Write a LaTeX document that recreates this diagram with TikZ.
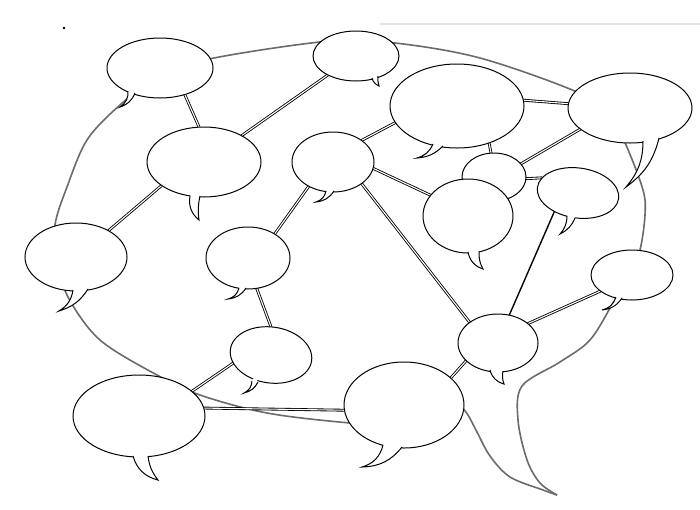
\documentclass[tikz,border=0pt]{standalone}
\usetikzlibrary{shapes.geometric}
\pgfdeclarelayer{background}
\pgfsetlayers{background,main}
\tikzset{
  bub/.style={ellipse, draw=black, fill=white, line width=1pt, inner sep=0pt, outer sep=0pt},
  tailline/.style={draw=black, line width=1pt},
  link/.style={draw=black, line width=0.85pt, double=white, double distance=1.1pt},
  solidlink/.style={draw=black, line width=1.4pt},
  bigoutline/.style={draw=black!58, line width=1.6pt, line join=round},
}
% tail: #1 S, #2 T, #3 E, #4 inner point, #5 first bend, #6 second bend
\newcommand\bubtail[6]{%
  \fill[white] #1 to[#5] #2 to[#6] #3 -- #4 -- cycle;
  \draw[tailline] #1 to[#5] #2 to[#6] #3;
}
\begin{document}
\begin{tikzpicture}[x=1pt,y=-1pt]
\useasboundingbox (0,0) rectangle (700,509);

% bubbles
\node[bub, minimum width=106pt, minimum height=60pt] (b1) at (160,68) {};
\node[bub, minimum width=86pt, minimum height=50pt] (b2) at (356,56) {};
\node[bub, minimum width=134pt, minimum height=84pt] (b3) at (457,106) {};
\node[bub, minimum width=124pt, minimum height=70pt] (b4) at (630,108) {};
\node[bub, minimum width=114pt, minimum height=70pt] (b5) at (204,162) {};
\node[bub, minimum width=82pt, minimum height=60pt] (b6) at (333,162) {};
\node[bub, minimum width=64pt, minimum height=48pt] (b7) at (494,177) {};
\node[bub, minimum width=90pt, minimum height=74pt] (b8) at (468,216) {};
\node[bub, minimum width=82pt, minimum height=50pt, rotate=-8] (b9) at (578,193) {};
\node[bub, minimum width=102pt, minimum height=68pt] (b10) at (76,257) {};
\node[bub, minimum width=84pt, minimum height=62pt] (b11) at (248,258) {};
\node[bub, minimum width=82pt, minimum height=50pt] (b12) at (632,275) {};
\node[bub, minimum width=82pt, minimum height=56pt, rotate=-8] (b13) at (271,355) {};
\node[bub, minimum width=80pt, minimum height=58pt] (b14) at (498,343) {};
\node[bub, minimum width=132pt, minimum height=82pt] (b15) at (139,416) {};
\node[bub, minimum width=120pt, minimum height=86pt] (b16) at (404,405) {};

% tails
\bubtail{(128,91)}{(120,107)}{(135,93)}{(132,86)}{bend left=30}{bend right=25}
\bubtail{(372,78)}{(379,86)}{(378,76)}{(375,72)}{bend right=25}{bend left=10}
\bubtail{(433,144)}{(417,158)}{(443,146)}{(438,138)}{bend left=25}{bend right=20}
\bubtail{(643,141)}{(626,187)}{(659,138)}{(650,132)}{bend left=20}{bend right=20}
\bubtail{(190,196)}{(199,220)}{(200,196)}{(195,190)}{bend right=30}{bend left=10}
\bubtail{(326,191)}{(316,202)}{(334,191)}{(330,186)}{bend left=30}{bend right=25}
\bubtail{(468,252)}{(483,269)}{(479,251)}{(473,245)}{bend right=30}{bend left=15}
\bubtail{(567,216)}{(560,234)}{(575,218)}{(571,210)}{bend left=20}{bend right=20}
\bubtail{(73,290)}{(59,311)}{(88,289)}{(80,283)}{bend left=25}{bend right=20}
\bubtail{(239,288)}{(228,299)}{(246,288)}{(243,283)}{bend left=30}{bend right=25}
\bubtail{(616,297)}{(602,310)}{(622,298)}{(620,292)}{bend left=30}{bend right=25}
\bubtail{(252,381)}{(244,393)}{(258,382)}{(255,376)}{bend left=30}{bend right=25}
\bubtail{(490,370)}{(504,384)}{(503,371)}{(497,365)}{bend right=30}{bend left=15}
\bubtail{(133,456)}{(158,480)}{(148,456)}{(140,450)}{bend right=30}{bend left=15}
\bubtail{(383,445)}{(362,467)}{(402,447)}{(392,438)}{bend left=30}{bend right=25}

\begin{pgfonlayer}{background}
\fill[white] (0,0) rectangle (700,509);
% scan artefacts
\draw[black!10, line width=1.2pt] (380,24) -- (700,24);
\fill[black] (64,28) circle (1.3pt);

% large speech bubble outline
\draw[bigoutline] plot[smooth, tension=0.55] coordinates {
  (557,495) (540,483) (527,460) (518,420) (522,386) (560,362) (590,340)
  (613,303) (630,275) (640,250) (645,215) (643,190) (626,145) (610,115)
  (577,92) (480,58) (395,43) (330,41) (214,58) (160,75) (120,105)
  (87,140) (67,187) (55,225) (57,260) (68,297) (100,340) (157,375)
  (200,395) (267,413) (350,423) (420,427)}
  -- (460,410);
\draw[bigoutline] plot[smooth, tension=0.55] coordinates {
  (460,405) (468,415) (477,432) (490,456) (510,477) (543,490) (557,495)};

% connectors
\draw[link] (b1.-47) -- (b5.98);
\draw[link] (b2.214) -- (b5.35);
\draw[link] (b5.0) -- (b6.180);
\draw[link] (b5.209) -- (b10.39);
\draw[link] (b6.37) -- (b3.195);
\draw[link] (b6.-9) -- (b8.151);
\draw[link] (b6.-37) -- (b14.144);
\draw[link] (b6.-135) -- (b11.42);
\draw[link] (b11.-74) -- (b13.98);
\draw[link] (b13.200) -- (b15.25);
\draw[link] (b15.7) -- (b16.185);
\draw[link] (b16.30) -- (b14.209);
\draw[link] (b14.33) -- (b12.207);
\draw[solidlink] (b14.68) -- (b9.226);
\draw[link] (b3.5) -- (b4.176);
\draw[link] (b4.203) -- (b7.26);
\draw[link] (b7.-3) -- (b9.165);
\draw[link] (b3.-49) -- (b7.97);
\end{pgfonlayer}
\end{tikzpicture}
\end{document}
